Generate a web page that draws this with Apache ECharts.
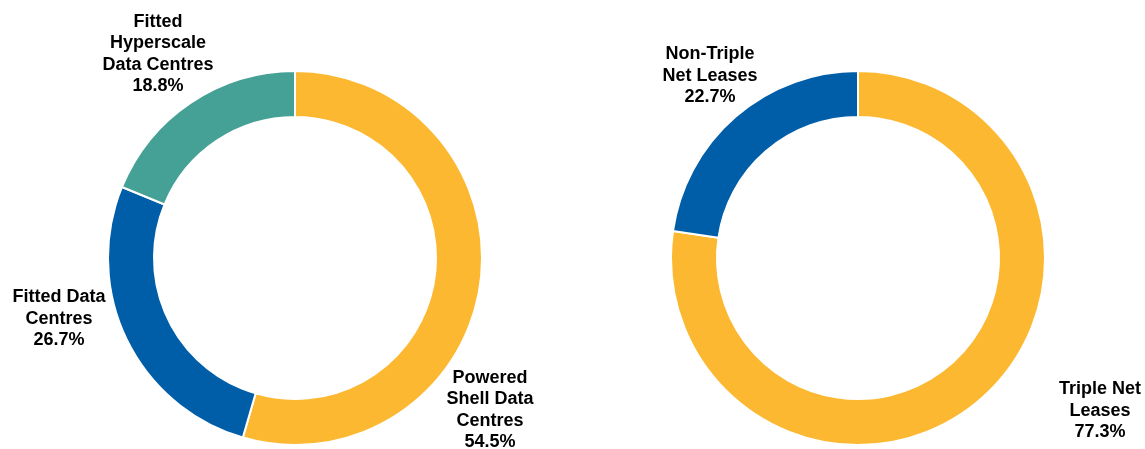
<!DOCTYPE html>
<html>
<head>
<meta charset="utf-8">
<script src="https://cdn.jsdelivr.net/npm/echarts@6/dist/echarts.min.js"></script>
<style>
html,body{margin:0;padding:0;background:#fff;}
#chart{width:1145px;height:449px;}
</style>
</head>
<body>
<div id="chart"></div>
<script>
// Left donut: data centre type
const typeCategories = ['Powered\nShell Data\nCentres', 'Fitted Data\nCentres', 'Fitted\nHyperscale\nData Centres'];
const typeValues = [54.5, 26.7, 18.8];
const typeColors = ['#FCB830', '#005EA9', '#45A096'];

// Right donut: lease type
const leaseCategories = ['Triple Net\nLeases', 'Non-Triple\nNet Leases'];
const leaseValues = [77.3, 22.7];
const leaseColors = ['#FCB830', '#005EA9'];

// label anchor points (layout only)
const typeLabelPos = [[490, 410], [59, 319], [158, 54]];
const leaseLabelPos = [[1100, 411], [710, 76]];

const chart = echarts.init(document.getElementById('chart'), null, {renderer: 'canvas'});

function makeSeries(cats, vals, colors, center, labelPos) {
  return {
    type: 'pie',
    center: center,
    radius: [141, 187],
    startAngle: 90,
    clockwise: true,
    avoidLabelOverlap: false,
    silent: true,
    animation: false,
    itemStyle: {borderColor: '#ffffff', borderWidth: 2},
    label: {
      show: true,
      position: 'outside',
      formatter: p => p.name + '\n' + p.value.toFixed(1) + '%',
      fontFamily: '"Liberation Sans", Arial, sans-serif',
      fontWeight: 'bold',
      fontSize: 18,
      lineHeight: 21.5,
      color: '#000',
      align: 'center'
    },
    labelLine: {show: false},
    labelLayout: function (params) {
      const pos = labelPos[params.dataIndex];
      return {x: pos[0], y: pos[1], align: 'center', verticalAlign: 'middle'};
    },
    data: cats.map((c, i) => ({name: c, value: vals[i], itemStyle: {color: colors[i]}}))
  };
}

chart.setOption({
  backgroundColor: '#ffffff',
  animation: false,
  series: [
    makeSeries(typeCategories, typeValues, typeColors, [295, 258], typeLabelPos),
    makeSeries(leaseCategories, leaseValues, leaseColors, [858, 258], leaseLabelPos)
  ]
});
</script>
</body>
</html>
